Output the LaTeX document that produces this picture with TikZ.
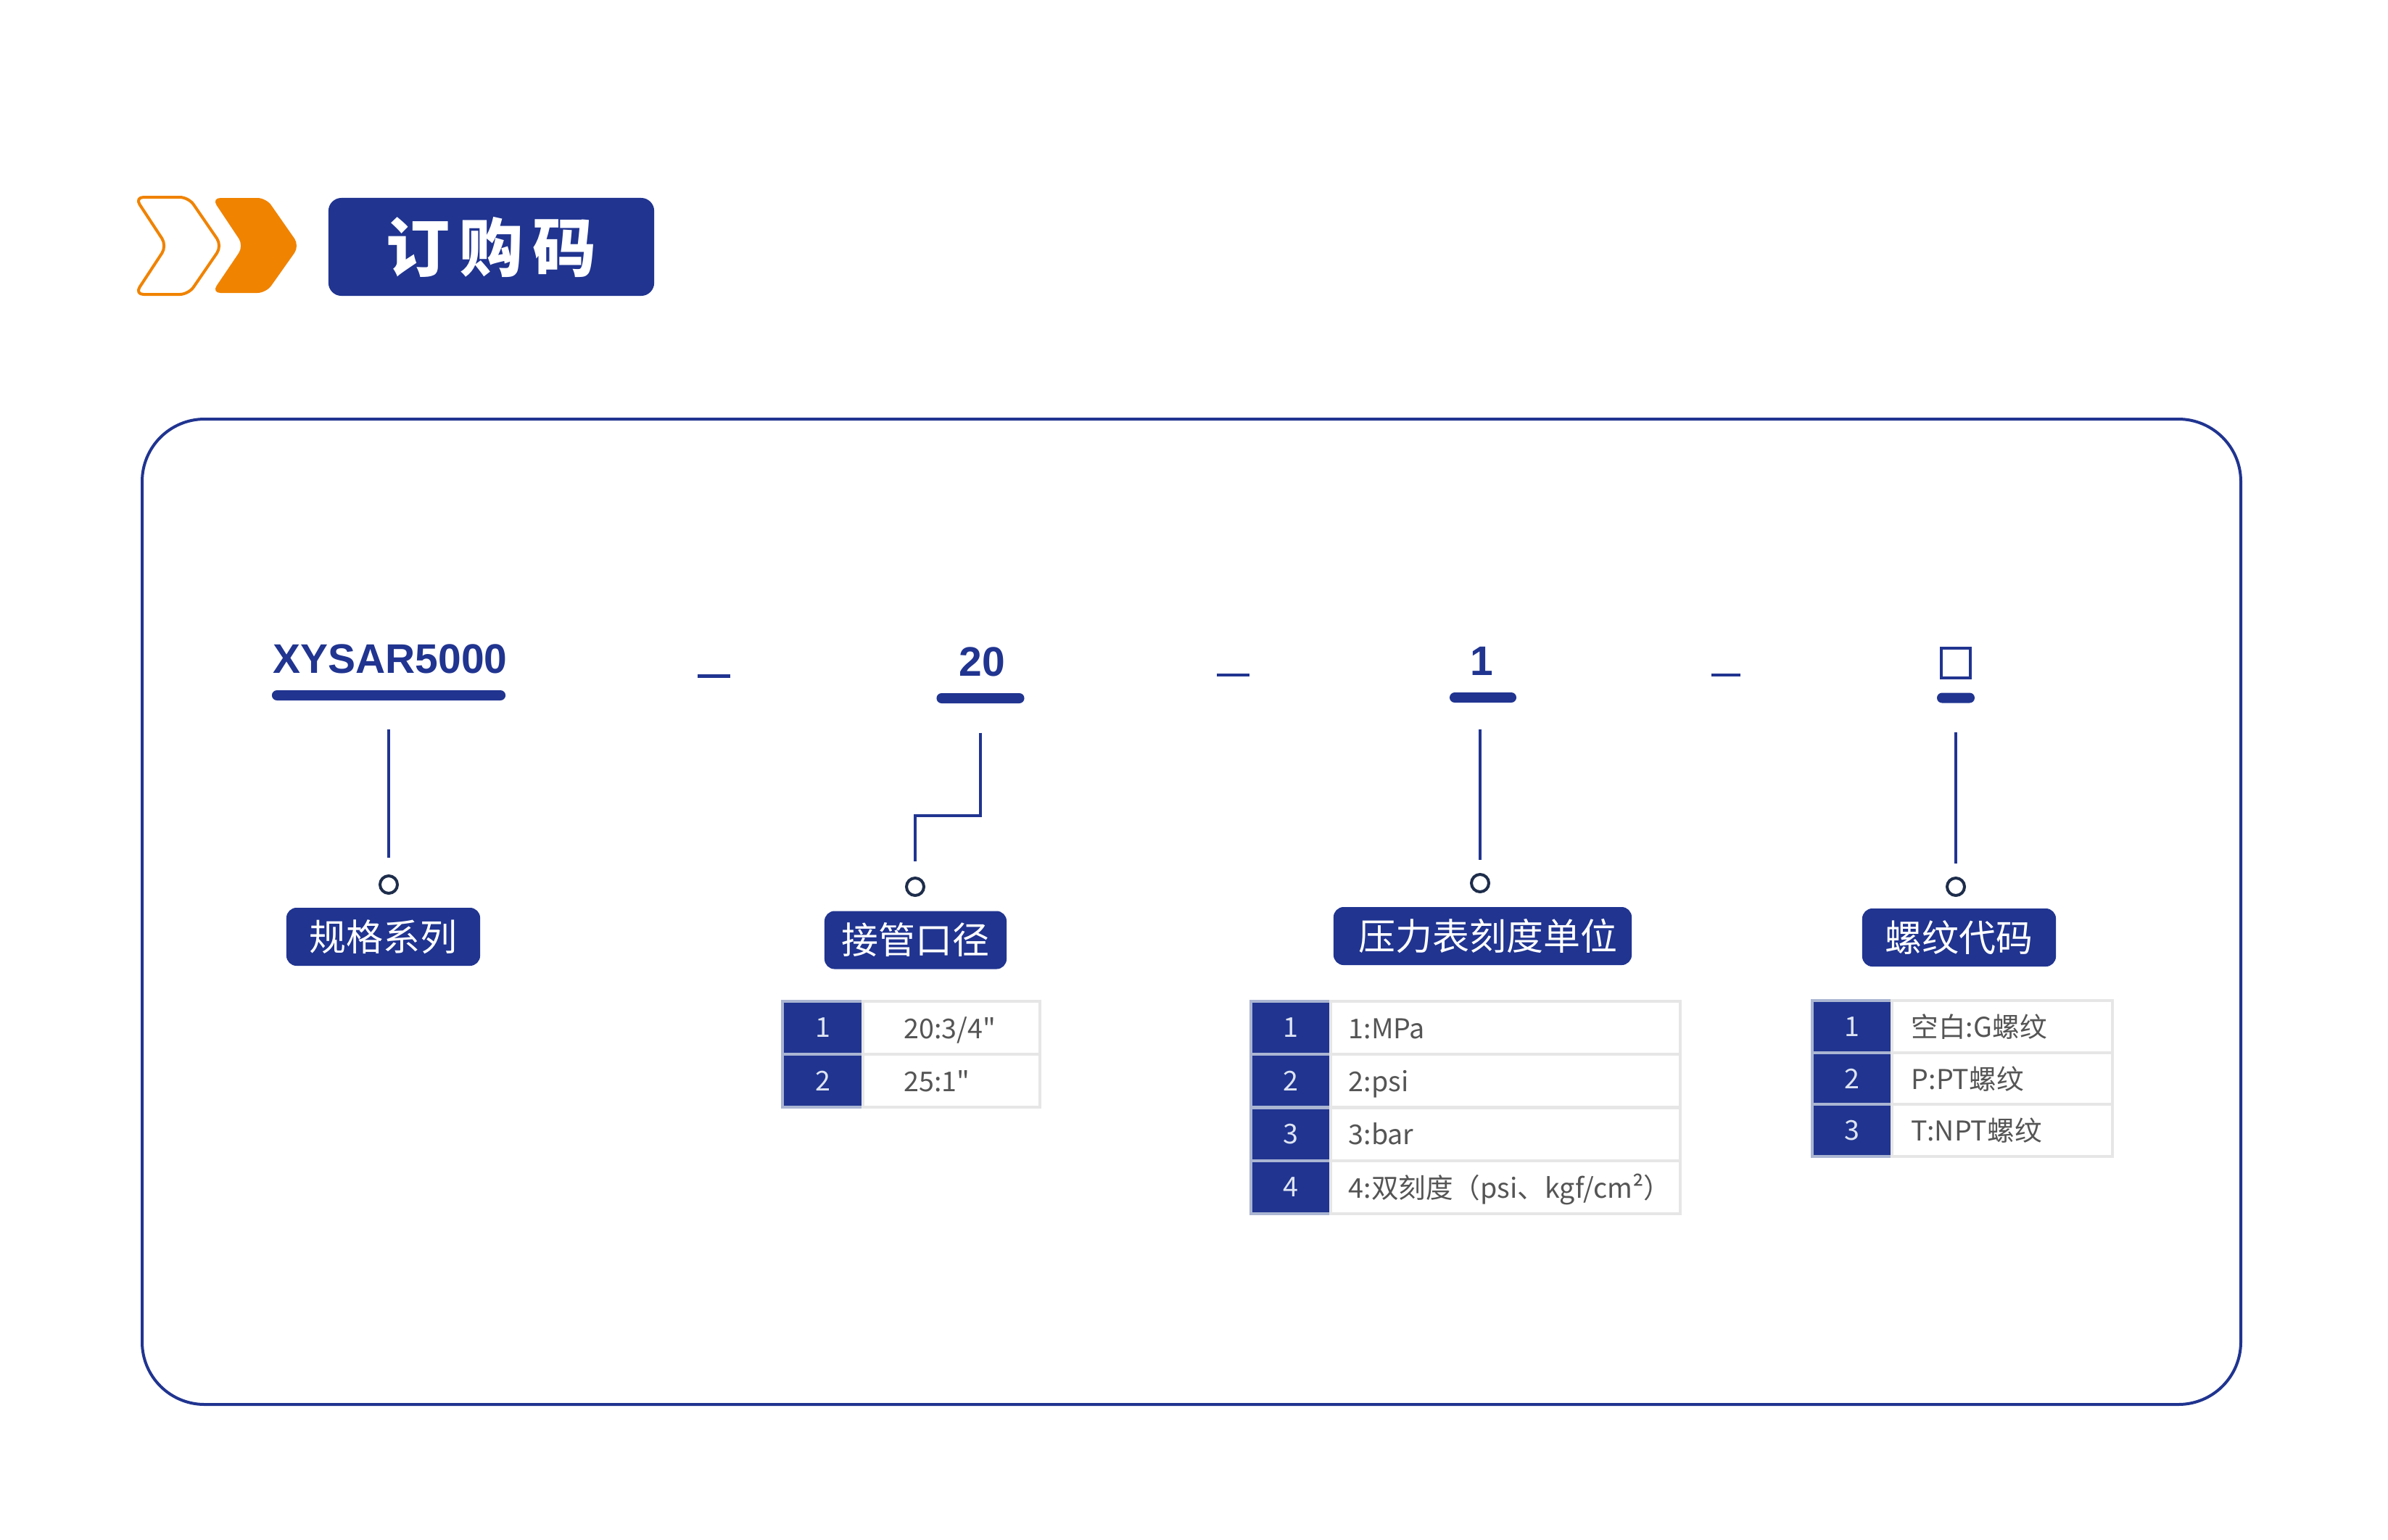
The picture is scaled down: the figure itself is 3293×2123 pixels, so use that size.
\documentclass[tikz,border=0pt]{standalone}
\usepackage{fontspec}
\newfontfamily\cjk{Noto Sans CJK SC}
\newfontfamily\lat{Liberation Sans}
\definecolor{navy}{RGB}{32,52,144}
\definecolor{orng}{RGB}{240,131,0}
\definecolor{ringcol}{RGB}{30,45,75}
\definecolor{bluegray}{RGB}{170,181,210}
\definecolor{cellgray}{RGB}{230,230,230}
\definecolor{txtgray}{RGB}{85,85,85}
\definecolor{numtxt}{RGB}{222,228,242}
\begin{document}
\begin{tikzpicture}[x=0.01cm,y=-0.01cm,
  bar/.style={fill=navy,draw=none,rounded corners=0.07cm,minimum height=0.14cm,inner sep=0},
  dashbar/.style={fill=navy,draw=none,minimum height=0.045cm,inner sep=0},
  code/.style={inner sep=0,text=navy,font=\lat\bfseries\fontsize{16.2}{16.2}\selectfont},
  ring/.style={circle,draw=ringcol,line width=0.04cm,minimum size=0.24cm,inner sep=0},
  conn/.style={draw=navy,line width=0.035cm},
  lab/.style={fill=navy,text=white,rounded corners=0.14cm,minimum height=0.80cm,inner sep=0,font=\cjk\fontsize{14.5}{14.5}\selectfont},
  numcell/.style={draw=bluegray,fill=navy,line width=0.04cm,inner sep=0,minimum width=1.10cm,text=numtxt,font=\cjk\fontsize{10.7}{10.7}\selectfont},
  valcell/.style={draw=cellgray,fill=white,line width=0.04cm,inner sep=0},
  valtxt/.style={anchor=base west,inner sep=0,text=txtgray,font=\cjk\fontsize{10.7}{10.7}\selectfont}]
\fill[white] (0,0) rectangle (3293,2123);
\useasboundingbox (0,0) rectangle (3293,2123);

% header
\draw[orng,line width=0.04cm,rounded corners=0.12cm,line join=round] (186,272) -- (260,272) -- (306,339) -- (260,406) -- (186,406) -- (230,339) -- cycle;
\fill[orng,rounded corners=0.12cm] (292,273) -- (367,273) -- (413,339) -- (367,404) -- (292,404) -- (336,339) -- cycle;
\node[fill=navy,rounded corners=0.18cm,minimum width=4.49cm,minimum height=1.35cm,inner sep=0,text=white,font=\cjk\bfseries\fontsize{25}{25}\selectfont] (title) at (677.5,340.5) {订\hspace{0.13cm}购\hspace{0.13cm}码};

% frame
\draw[navy,line width=0.04cm,rounded corners=0.86cm] (196,578) rectangle (3090,1937);

% code line
\node[code,anchor=base west] (p1) at (376,928) {XYSAR5000};
\node[code,anchor=base] (p2) at (1354,932) {20};
\node[code,anchor=base] (p3) at (2043,931) {1};
\node[draw=navy,line width=0.04cm,minimum width=0.40cm,minimum height=0.41cm,inner sep=0] (p4) at (2697,914.5) {};

\node[dashbar,minimum width=0.45cm] (d1) at (984.5,932.5) {};
\node[dashbar,minimum width=0.45cm] (d2) at (1700.5,931) {};
\node[dashbar,minimum width=0.40cm] (d3) at (2380,931) {};

\node[bar,minimum width=3.22cm] (bar1) at (536,959) {};
\node[bar,minimum width=1.21cm] (bar2) at (1352,963) {};
\node[bar,minimum width=0.92cm] (bar3) at (2045,962) {};
\node[bar,minimum width=0.52cm] (bar4) at (2697,962.5) {};

% rings
\node[ring] (c1) at (536,1220) {};
\node[ring] (c2) at (1262,1223) {};
\node[ring] (c3) at (2041,1218) {};
\node[ring] (c4) at (2697,1223) {};

% connectors
\draw[conn] ([yshift=-0.39cm]bar1.south) -- ([yshift=0.23cm]c1.north);
\coordinate (k2) at (1352,1125);
\draw[conn] ([yshift=-0.40cm]bar2.south) -- (k2) -| ([yshift=0.21cm]c2.north);
\coordinate (t3) at (c3.north |- bar3.south);
\draw[conn] ([yshift=-0.36cm]t3) -- ([yshift=0.18cm]c3.north);
\draw[conn] ([yshift=-0.40cm]bar4.south) -- ([yshift=0.18cm]c4.north);

% labels
\node[lab,minimum width=2.67cm] (L1) at (528.5,1292) {规格系列};
\node[lab,minimum width=2.51cm] (L2) at (1262.5,1296.5) {接管口径};
\node[lab,minimum width=4.11cm] (L3) at (2044.5,1291) {\hspace{0.14cm}压力表刻度单位};
\node[lab,minimum width=2.67cm] (L4) at (2701.5,1293) {螺纹代码};

% table 1
\node[numcell,minimum height=0.73cm] (t1n1) at (1134.5,1417.5) {1};
\node[numcell,minimum height=0.73cm] (t1n2) at (1134.5,1490.5) {2};
\node[valcell,minimum width=2.44cm,minimum height=0.73cm] (t1v1) at (1312,1417.5) {};
\node[valcell,minimum width=2.44cm,minimum height=0.73cm] (t1v2) at (1312,1490.5) {};
\node[valtxt] (t1a) at (1246,1432) {20:3/4"};
\node[valtxt] (t1b) at (1246,1505) {25:1"};

% table 2
\node[numcell,minimum height=0.73cm] (t2n1) at (1780,1417.5) {1};
\node[numcell,minimum height=0.73cm] (t2n2) at (1780,1490.5) {2};
\node[numcell,minimum height=0.73cm] (t2n3) at (1780,1564) {3};
\node[numcell,minimum height=0.73cm] (t2n4) at (1780,1637.5) {4};
\node[valcell,minimum width=4.82cm,minimum height=0.73cm] (t2v1) at (2076,1417.5) {};
\node[valcell,minimum width=4.82cm,minimum height=0.73cm] (t2v2) at (2076,1490.5) {};
\node[valcell,minimum width=4.82cm,minimum height=0.73cm] (t2v3) at (2076,1564) {};
\node[valcell,minimum width=4.82cm,minimum height=0.73cm] (t2v4) at (2076,1637.5) {};
\node[valtxt] (t2a) at (1859,1432) {1:MPa};
\node[valtxt] (t2b) at (1859,1505) {2:psi};
\node[valtxt] (t2c) at (1859,1578.5) {3:bar};
\node[valtxt] (t2d) at (1859,1652) {4:双刻度（psi、kgf/cm²）};

% table 3
\node[numcell,minimum height=0.717cm] (t3n1) at (2554,1416) {1};
\node[numcell,minimum height=0.717cm] (t3n2) at (2554,1487.5) {2};
\node[numcell,minimum height=0.717cm] (t3n3) at (2554,1559) {3};
\node[valcell,minimum width=3.04cm,minimum height=0.717cm] (t3v1) at (2761,1416) {};
\node[valcell,minimum width=3.04cm,minimum height=0.717cm] (t3v2) at (2761,1487.5) {};
\node[valcell,minimum width=3.04cm,minimum height=0.717cm] (t3v3) at (2761,1559) {};
\node[valtxt] (t3a) at (2635,1430.5) {空白:G螺纹};
\node[valtxt] (t3b) at (2635,1502) {P:PT螺纹};
\node[valtxt] (t3c) at (2635,1573.5) {T:NPT螺纹};
\end{tikzpicture}
\end{document}
